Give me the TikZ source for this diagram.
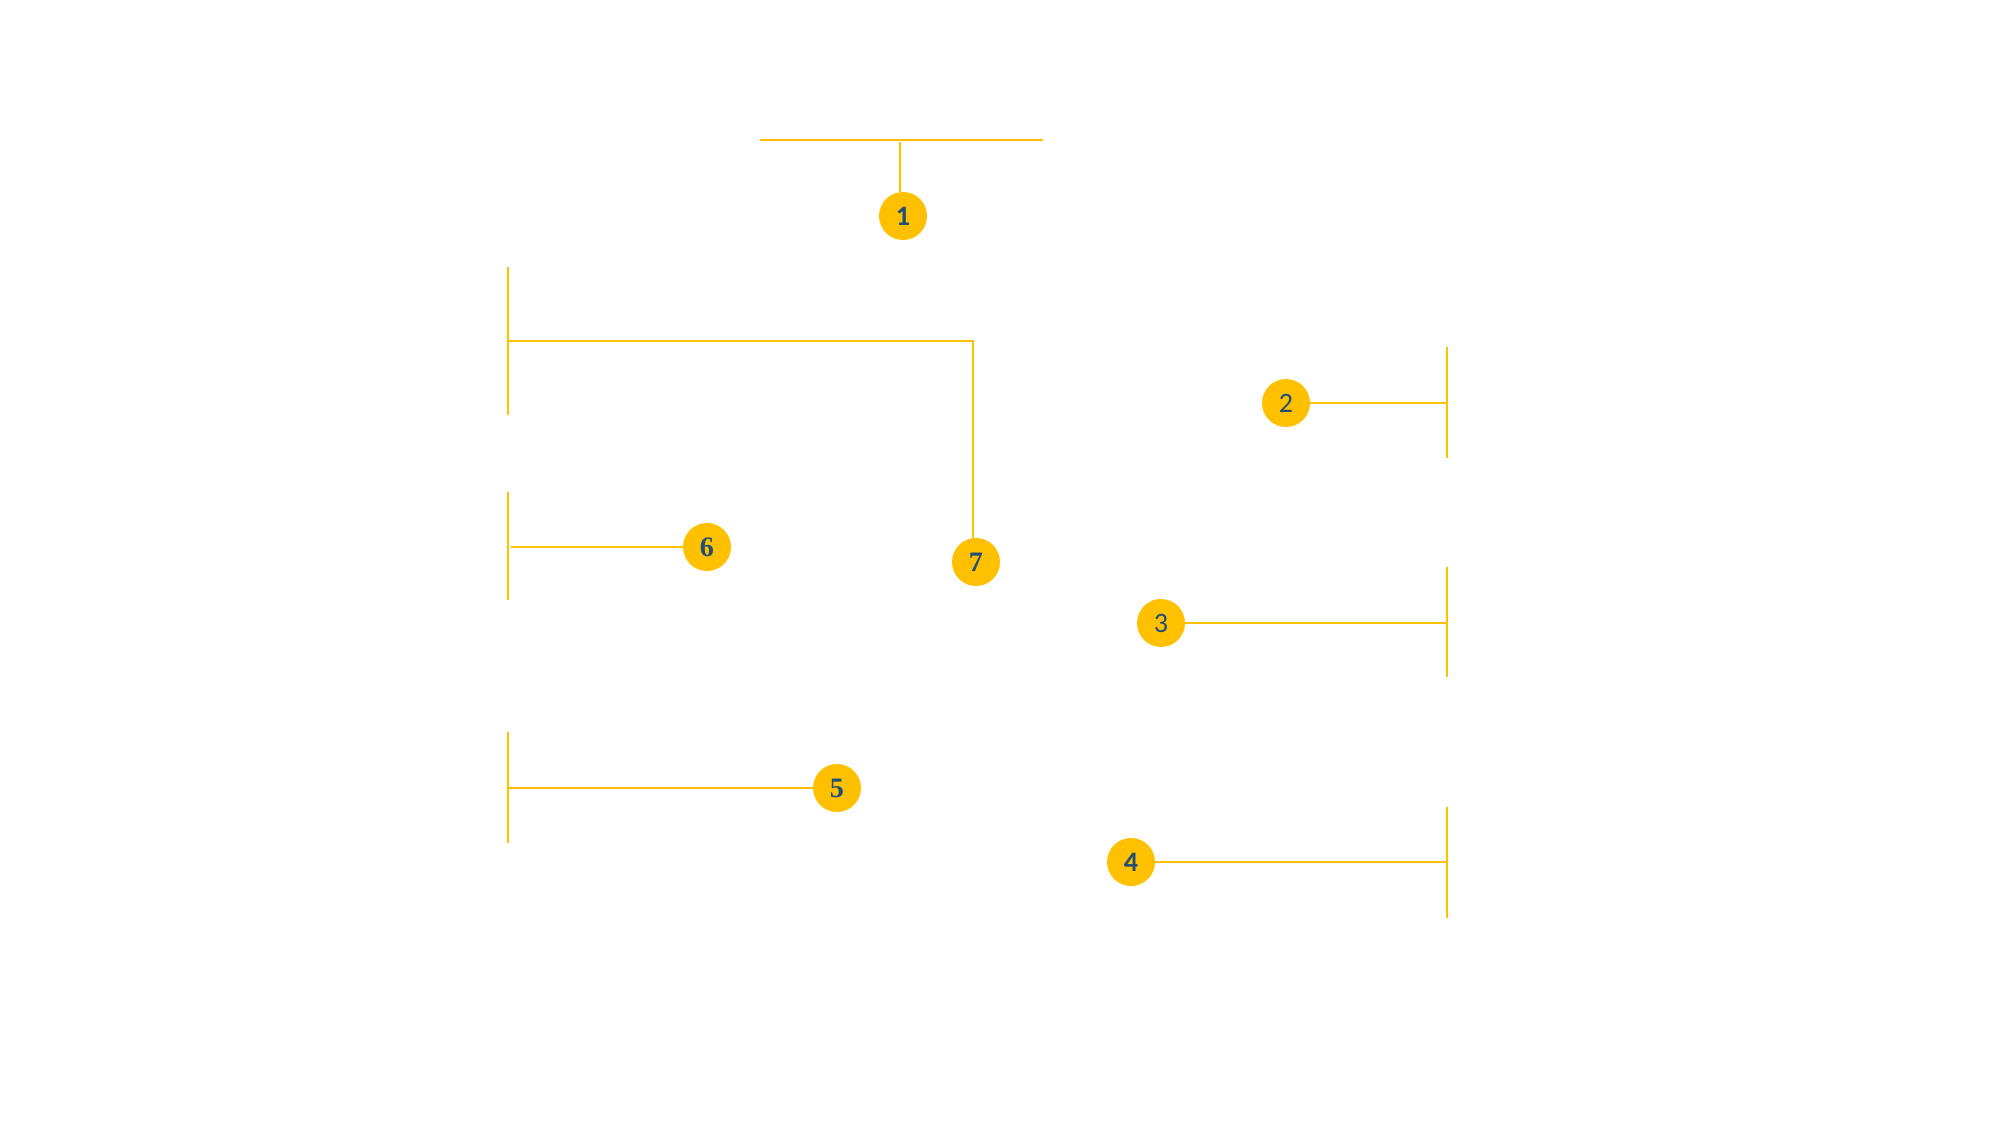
\documentclass[tikz,border=0pt]{standalone}
\usepackage{fontspec}
\newfontfamily\sansnum{Carlito}
\newfontfamily\serifnum{Liberation Serif}
\definecolor{callout}{HTML}{FFC000}
\definecolor{numblue}{HTML}{1F4E79}
\tikzset{
  bar/.style={color=callout,line width=1.15pt},
  badge/.style={circle,fill=callout,minimum size=0.96cm,inner sep=0pt,text=numblue,
    font=\sansnum\fontsize{16}{16}\selectfont},
  oldbadge/.style={badge,font=\serifnum\bfseries\fontsize{16}{16}\selectfont}
}
\begin{document}
\begin{tikzpicture}[x=0.02cm,y=-0.02cm]
\useasboundingbox (0,0) rectangle (2007,1124);
%top bracket
\draw[bar] (760,140) -- (1043,140);
\coordinate (t1) at (900,142);
\node[badge] (n1) at (903,216) {\bfseries 1};
\draw[bar] (t1) -- (t1 |- n1.north);
%right brackets
\draw[bar] (1447,347) -- (1447,458);
\draw[bar] (1447,567) -- (1447,677);
\draw[bar] (1447,807) -- (1447,918);
\coordinate (t2) at (1447,403);
\coordinate (t3) at (1447,623);
\coordinate (t4) at (1447,862);
\node[badge] (n2) at (1286,403) {2};
\node[badge] (n3) at (1161,623) {3};
\node[badge] (n4) at (1131,862) {\bfseries 4};
\draw[bar] (n2) -- (t2);
\draw[bar] (n3) -- (t3);
\draw[bar] (n4) -- (t4);
%left brackets
\draw[bar] (508,267) -- (508,415);
\draw[bar] (508,492) -- (508,600);
\draw[bar] (508,732) -- (508,843);
\coordinate (t5) at (508,788);
\coordinate (t6) at (511,547);
\coordinate (t7) at (508,341);
\coordinate (k7) at (973,341);
\node[oldbadge] (n5) at (837,788) {5};
\node[oldbadge] (n6) at (707,547) {6};
\node[oldbadge] (n7) at (976,562) {7};
\draw[bar] (t5) -- (n5);
\draw[bar] (t6) -- (n6);
\draw[bar] (t7) -- (k7) -- (k7 |- n7.north);
\end{tikzpicture}
\end{document}
